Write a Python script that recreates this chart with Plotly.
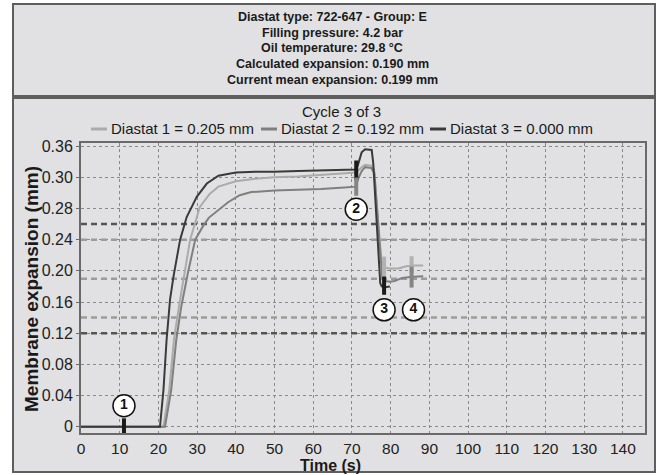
import plotly.graph_objects as go

# ---------------- data ----------------
header_lines = [
    "Diastat type: 722-647 - Group: E",
    "Filling pressure: 4.2 bar",
    "Oil temperature: 29.8 °C",
    "Calculated expansion: 0.190 mm",
    "Current mean expansion: 0.199 mm",
]
cycle_label = "Cycle 3 of 3"
series_names = ["Diastat 1 = 0.205 mm", "Diastat 2 = 0.192 mm", "Diastat 3 = 0.000 mm"]

t1 = [0, 21.3, 22.8, 24.0, 25.3, 26.8, 28.2, 30.7, 33.3, 35.5, 40, 45, 50, 56, 62, 68, 71.0,
      71.5, 72.5, 73.4, 75.0, 75.7, 76.7, 77.6, 78.5, 79.8, 82, 84, 86, 88.4]
v1 = [0, 0, 0.047, 0.111, 0.154, 0.197, 0.240, 0.282, 0.299, 0.308, 0.315, 0.318, 0.320, 0.321,
      0.323, 0.325, 0.326, 0.328, 0.333, 0.336, 0.335, 0.330, 0.270, 0.212, 0.204, 0.203, 0.203,
      0.206, 0.207, 0.207]

t2 = [0, 21.7, 23.3, 24.6, 25.9, 27.6, 29.5, 31.6, 33.0, 35.0, 38, 41, 44, 50, 56, 62, 68, 71.0,
      71.6, 72.5, 73.4, 75.0, 75.8, 76.8, 77.8, 78.6, 79.8, 81, 83, 85, 88.4]
v2 = [0, 0, 0.047, 0.111, 0.154, 0.197, 0.240, 0.258, 0.268, 0.276, 0.288, 0.297, 0.301, 0.303,
      0.304, 0.305, 0.307, 0.308, 0.318, 0.328, 0.333, 0.332, 0.325, 0.260, 0.192, 0.187, 0.186,
      0.187, 0.191, 0.192, 0.193]

t3 = [0, 20.4, 21.3, 22.1, 23.0, 23.9, 25.6, 27.3, 29.9, 32.5, 35.5, 40, 45, 50, 56, 62, 68,
      71.0, 71.5, 72.5, 73.4, 75.1, 75.5, 76.4, 77.3, 77.7, 78.5, 79.8]
v3 = [0, 0, 0.047, 0.111, 0.163, 0.193, 0.240, 0.269, 0.295, 0.312, 0.322, 0.326, 0.327, 0.327,
      0.328, 0.329, 0.330, 0.330, 0.335, 0.352, 0.356, 0.355, 0.338, 0.260, 0.184, 0.180, 0.179,
      0.180]

limit_dark = [0.26, 0.12]
limit_light = [0.24, 0.19, 0.14]

# event markers (vertical bars)
bar_t = [11.1, 71.1, 71.1, 78.3, 78.3, 85.4, 85.4]
bar_v = [0.0, 0.329, 0.308, 0.203, 0.181, 0.208, 0.192]
bar_len = [12, 14, 13, 17, 13, 12, 15]
bar_col = ["#1a1a1a", "#1a1a1a", "#858585", "#b2b2b2", "#1a1a1a", "#b2b2b2", "#858585"]

# numbered circles
step_t = [11.1, 71.1, 78.3, 85.9]
step_v = [0.027, 0.279, 0.150, 0.150]
step_text = ["1", "2", "3", "4"]

x_ticks = list(range(0, 150, 10))
y_tickvals = [0, 0.04, 0.08, 0.12, 0.16, 0.20, 0.24, 0.28, 0.32, 0.36]
y_ticktext = ["0", "0.04", "0.08", "0.12", "0.16", "0.20", "0.24", "0.28", "0.30", "0.36"]

# ---------------- figure ----------------
W, H = 660, 475
ML, MR, MT, MB = 81, 15, 143, 42
PW, PH = W - ML - MR, H - MT - MB
BG = "#e1e1e3"
FONT = "Liberation Sans, Arial, sans-serif"
X_RANGE = [0, 145.7]


def px_x(px):
    return (px - ML) / PW


def px_y(py):
    return (H - MB - py) / PH


fig = go.Figure()

# background boxes
fig.add_shape(type="rect", xref="paper", yref="paper", layer="below",
              x0=px_x(13), x1=px_x(655), y0=px_y(96), y1=px_y(4),
              fillcolor=BG, line=dict(color="#5e5e5e", width=2))
fig.add_shape(type="rect", xref="paper", yref="paper", layer="below",
              x0=px_x(13), x1=px_x(655), y0=px_y(472), y1=px_y(98),
              fillcolor=BG, line=dict(color="#5e5e5e", width=2))

# limit lines
for y in limit_dark:
    fig.add_trace(go.Scatter(x=X_RANGE, y=[y, y], mode="lines", showlegend=False,
                             hoverinfo="skip",
                             line=dict(color="#555555", width=2.5, dash="6px,4px")))
for y in limit_light:
    fig.add_trace(go.Scatter(x=X_RANGE, y=[y, y], mode="lines", showlegend=False,
                             hoverinfo="skip",
                             line=dict(color="#9c9c9c", width=2.5, dash="6px,4px")))

line_cols = ["#ababab", "#7f7f7f", "#3a3a3a"]
for name, t, v, c in zip(series_names, [t1, t2, t3], [v1, v2, v3], line_cols):
    fig.add_trace(go.Scatter(x=t, y=v, mode="lines", name=name, showlegend=False,
                             line=dict(color=c, width=2)))

for t, v, L, c in zip(bar_t, bar_v, bar_len, bar_col):
    fig.add_trace(go.Scatter(x=[t], y=[v], mode="markers", showlegend=False, hoverinfo="skip",
                             marker=dict(symbol="line-ns", size=L,
                                         line=dict(color=c, width=4))))

fig.add_trace(go.Scatter(x=step_t, y=step_v, mode="markers+text", text=step_text,
                         textposition="middle center", showlegend=False, hoverinfo="skip",
                         textfont=dict(family=FONT, size=14, color="#111"),
                         texttemplate="<b>%{text}</b>",
                         marker=dict(symbol="circle", size=22, color="white",
                                     line=dict(color="#111", width=1.5))))

ann = []
for i, txt in enumerate(header_lines):
    ann.append(dict(xref="paper", yref="paper", x=px_x(332), y=px_y(17 + i * 15.7),
                    text="<b>" + txt + "</b>", showarrow=False, xanchor="center", yanchor="middle",
                    font=dict(family=FONT, size=12.5, color="#1a1a1a")))
ann.append(dict(xref="paper", yref="paper", x=px_x(341), y=px_y(111), text=cycle_label,
                showarrow=False, xanchor="center", yanchor="middle",
                font=dict(family=FONT, size=15, color="#1a1a1a")))

# manual legend (line sample + label)
leg_line_x = [(91, 107), (261, 277), (430, 446)]
leg_text_x = [109, 279, 448]
for (xa, xb), xt, name, c in zip(leg_line_x, leg_text_x, series_names, line_cols):
    fig.add_shape(type="line", xref="paper", yref="paper", x0=px_x(xa), x1=px_x(xb),
                  y0=px_y(129), y1=px_y(129), line=dict(color=c, width=3))
    ann.append(dict(xref="paper", yref="paper", x=px_x(xt), y=px_y(129), text=name,
                    showarrow=False, xanchor="left", yanchor="middle",
                    font=dict(family=FONT, size=15, color="#1a1a1a")))

ann.append(dict(xref="paper", yref="paper", x=px_x(330), y=px_y(465.5), text="<b>Time (s)</b>",
                showarrow=False, xanchor="center", yanchor="middle",
                font=dict(family=FONT, size=16, color="#1a1a1a")))
ann.append(dict(xref="paper", yref="paper", x=px_x(31), y=px_y(289),
                text="<b>Membrane expansion (mm)</b>", textangle=-90,
                showarrow=False, xanchor="center", yanchor="middle",
                font=dict(family=FONT, size=19, color="#1a1a1a")))

fig.update_layout(
    width=W, height=H,
    margin=dict(l=ML, r=MR, t=MT, b=MB, pad=0),
    paper_bgcolor="white", plot_bgcolor="rgba(0,0,0,0)",
    font=dict(family=FONT, color="#222"),
    annotations=ann,
    showlegend=False,
)
fig.update_xaxes(range=X_RANGE, tickvals=x_ticks, showgrid=True, gridcolor="#8a8a8a",
                 griddash="dot", gridwidth=1, showline=True, mirror=True, linecolor="#6a6a6a",
                 linewidth=2, ticks="", tickfont=dict(family=FONT, size=15.5, color="#222"),
                 zeroline=False)
fig.update_yaxes(range=[-0.008, 0.364], tickvals=y_tickvals, ticktext=y_ticktext, showgrid=True,
                 gridcolor="#8a8a8a", griddash="dot", gridwidth=1, showline=True, mirror=True,
                 linecolor="#6a6a6a", linewidth=2, ticks="outside", ticklen=3,
                 tickcolor="#6a6a6a", tickfont=dict(family=FONT, size=16, color="#222"),
                 zeroline=False)

fig.write_html("out.html")
